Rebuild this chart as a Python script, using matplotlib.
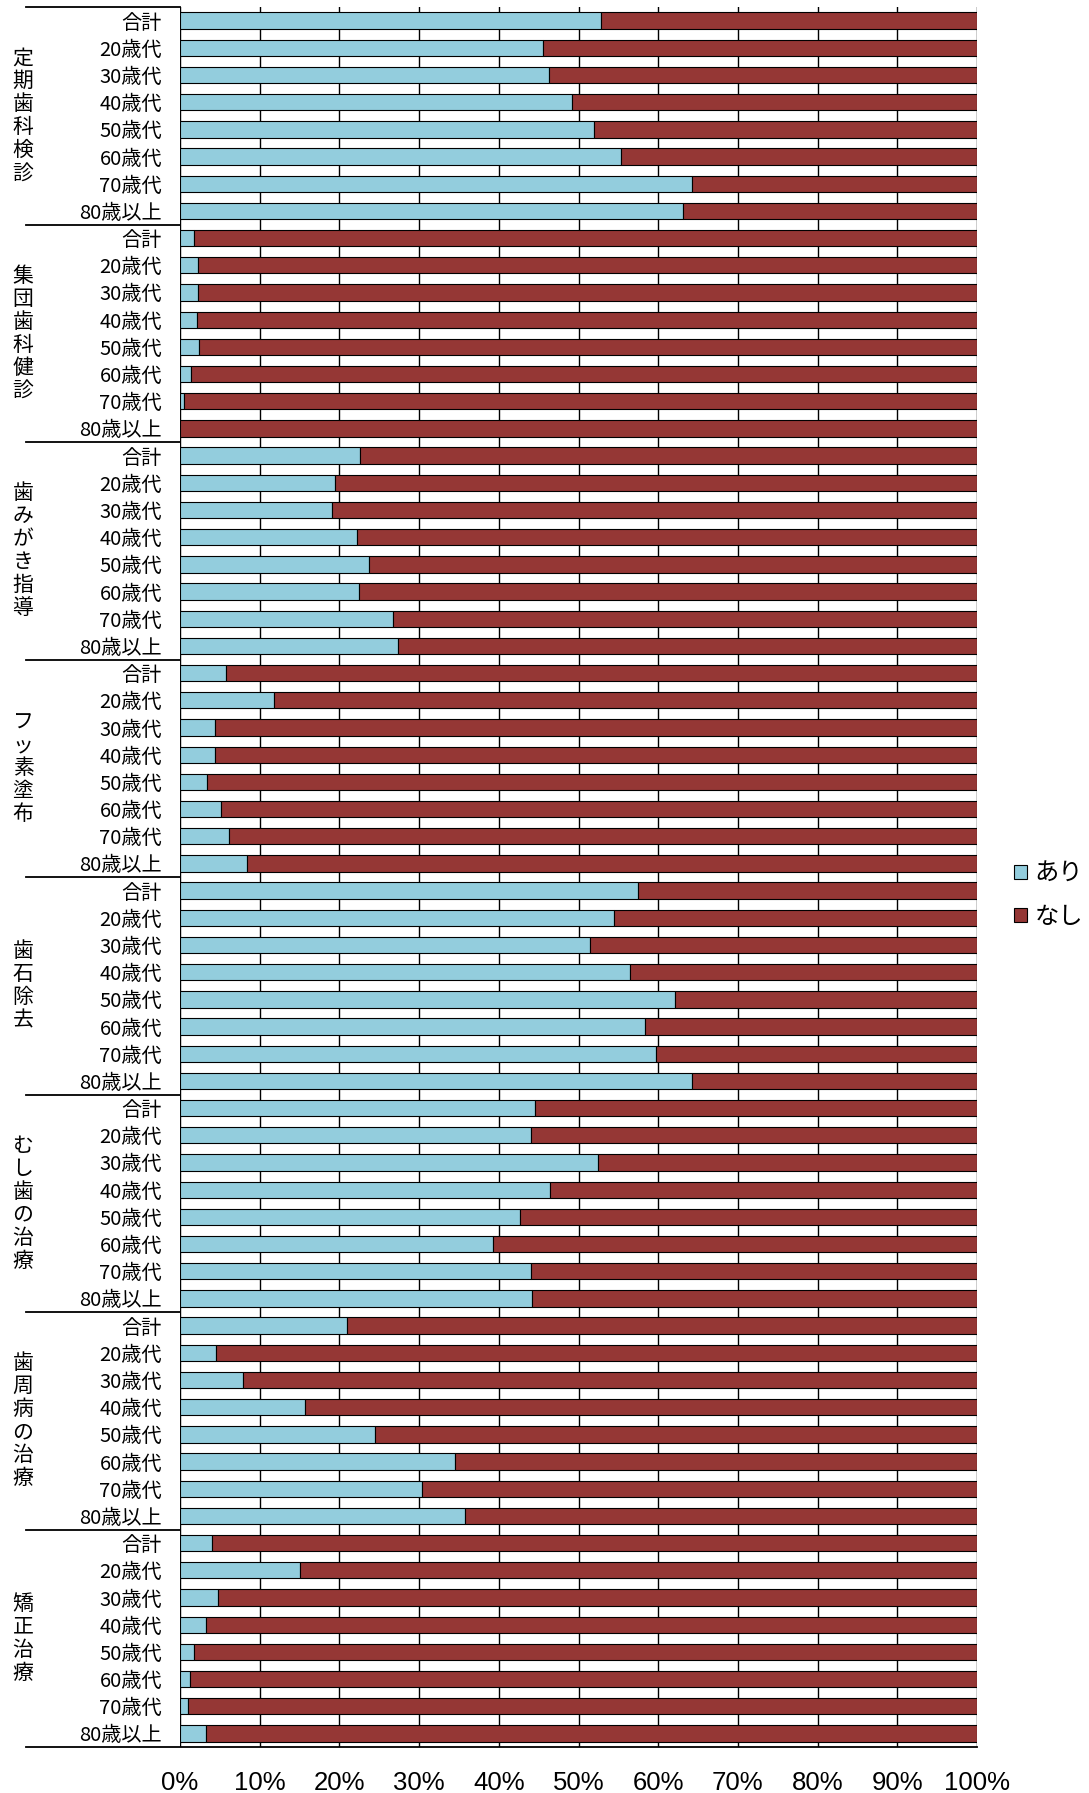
import matplotlib
matplotlib.use("Agg")
import matplotlib.pyplot as plt
from matplotlib.patches import Patch
import matplotlib.transforms as mtransforms
import numpy as np

plt.rcParams['font.family'] = ['Noto Sans CJK JP', 'DejaVu Sans']

groups = ["定期歯科検診", "集団歯科健診", "歯みがき指導", "フッ素塗布",
          "歯石除去", "むし歯の治療", "歯周病の治療", "矯正治療"]
ages = ["合計", "20歳代", "30歳代", "40歳代", "50歳代", "60歳代", "70歳代", "80歳以上"]

ari_teiki   = [52.8, 45.6, 46.3, 49.2, 52.0, 55.3, 64.2, 63.1]
ari_shudan  = [1.8, 2.2, 2.2, 2.1, 2.4, 1.4, 0.5, 0.0]
ari_hamigaki = [22.6, 19.4, 19.1, 22.2, 23.7, 22.4, 26.7, 27.4]
ari_fusso   = [5.8, 11.8, 4.4, 4.4, 3.4, 5.2, 6.1, 8.4]
ari_shiseki = [57.5, 54.4, 51.5, 56.4, 62.1, 58.4, 59.7, 64.2]
ari_mushiba = [44.6, 44.0, 52.5, 46.4, 42.7, 39.3, 44.0, 44.2]
ari_shishu  = [21.0, 4.5, 7.9, 15.7, 24.5, 34.5, 30.4, 35.8]
ari_kyosei  = [4.0, 15.1, 4.8, 3.3, 1.7, 1.2, 1.0, 3.2]

ari_all = [ari_teiki, ari_shudan, ari_hamigaki, ari_fusso,
           ari_shiseki, ari_mushiba, ari_shishu, ari_kyosei]

series_labels = ["あり", "なし"]
xtick_labels = [f"{v}%" for v in range(0, 101, 10)]

col_ari = "#93CDDD"
col_nashi = "#953735"

W, H = 1089, 1793
fig = plt.figure(figsize=(W / 100, H / 100), dpi=100)
ax_left, ax_right = 180 / W, 977 / W
ax_top, ax_bot = 1 - 7 / H, 1 - 1747 / H
ax = fig.add_axes([ax_left, ax_bot, ax_right - ax_left, ax_top - ax_bot])

ari = np.array([v for g in ari_all for v in g], dtype=float)
nashi = 100.0 - ari
n = len(ari)
y = np.arange(n)
labels = ages * len(groups)

ax.barh(y, ari, height=0.6, color=col_ari, edgecolor="black", linewidth=0.8, zorder=3)
ax.barh(y, nashi, left=ari, height=0.6, color=col_nashi, edgecolor="black", linewidth=0.8, zorder=3)

ax.set_xlim(0, 100)
ax.set_ylim(n - 0.5, -0.5)
ax.set_xticks(np.arange(0, 101, 10))
ax.set_xticklabels(xtick_labels, family=['Liberation Sans', 'DejaVu Sans'], fontsize=18.5)
ax.tick_params(axis='x', length=0, pad=17)
ax.set_yticks(y)
ax.set_yticklabels(labels, fontsize=14.5)
ax.tick_params(axis='y', length=0, pad=13)

for v in range(0, 101, 10):
    ax.axvline(v, color="black", linewidth=1.0, zorder=1)

for s in ax.spines.values():
    s.set_visible(False)

trans = mtransforms.blended_transform_factory(ax.transAxes, ax.transData)
x0 = (26 - 180) / 797
for b in range(len(groups) + 1):
    yy = b * len(ages) - 0.5
    x1 = 1.0 if b == len(groups) else 0.0
    ax.plot([x0, x1], [yy, yy], color="black", linewidth=1.3, transform=trans,
            clip_on=False, zorder=4)

pitch = 23 / 27.19
xg = (23 - 180) / 797
for gi, g in enumerate(groups):
    center = gi * len(ages) + (len(ages) - 1) / 2
    chars = list(g)
    m = len(chars)
    for ci, ch in enumerate(chars):
        yy = center + (ci - (m - 1) / 2) * pitch
        ax.text(xg, yy, ch, transform=trans, ha="center", va="center",
                fontsize=15, clip_on=False)

handles = [Patch(facecolor=col_ari, edgecolor="black", linewidth=0.8),
           Patch(facecolor=col_nashi, edgecolor="black", linewidth=0.8)]
fig.legend(handles, series_labels, loc="center left",
           bbox_to_anchor=(1014 / W, 1 - 895 / H), frameon=False,
           fontsize=17.5, handlelength=0.55, handleheight=0.55, handletextpad=0.3,
           labelspacing=0.7, borderpad=0, borderaxespad=0)

fig.savefig("out.png", dpi=100, facecolor="white")
